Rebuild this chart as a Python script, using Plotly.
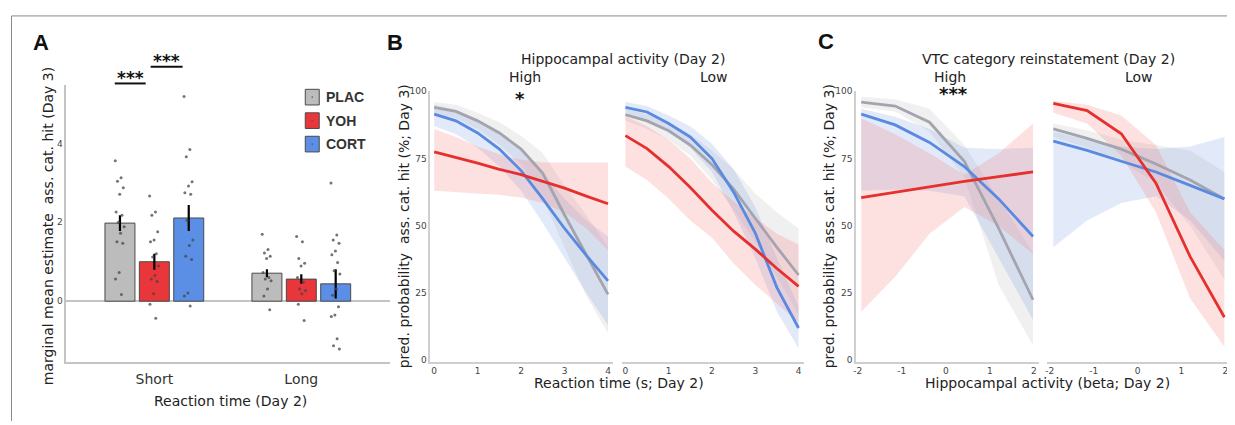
import plotly.graph_objects as go

# page body has an 8px margin: size/offset the figure so the screenshot matches
OFF = 8
W, H = 1235 - OFF, 425 - OFF

# ---------------- Panel A data ----------------
groups = ["Short", "Long"]
conds = ["PLAC", "YOH", "CORT"]
bar_means = {"PLAC": [1.98, 0.71], "YOH": [1.00, 0.56], "CORT": [2.11, 0.44]}
bar_se = {"PLAC": [0.20, 0.10], "YOH": [0.20, 0.12], "CORT": [0.33, 0.37]}
pts_plac_short = [3.56, 3.13, 3.04, 2.88, 2.71, 2.26, 2.18, 2.0, 1.89, 1.72, 1.51, 1.47, 0.73, 0.56, 0.17]
pts_yoh_short = [2.67, 2.26, 2.18, 1.76, 1.55, 1.51, 1.2, 1.12, 0.89, 0.65, 0.56, 0.5, 0.19, -0.08, -0.43]
pts_cort_short = [5.19, 3.85, 3.66, 3.03, 2.92, 2.75, 2.71, 2.05, 1.55, 1.41, 1.14, 1.06, 0.21, 0.13, -0.12]
pts_plac_long = [1.7, 1.31, 1.22, 1.14, 1.08, 0.73, 0.6, 0.56, 0.52, 0.31, 0.13, -0.22]
pts_yoh_long = [1.64, 1.51, 1.08, 0.96, 0.89, 0.6, 0.48, 0.31, 0.27, 0.19, -0.08, -0.49]
pts_cort_long = [3.0, 1.68, 1.55, 1.47, 1.27, 1.18, 0.98, 0.77, 0.69, 0.31, 0.15, -0.14, -0.35, -0.39, -0.95, -1.13, -1.21]
points = {
    "PLAC": [pts_plac_short, pts_plac_long],
    "YOH": [pts_yoh_short, pts_yoh_long],
    "CORT": [pts_cort_short, pts_cort_long],
}

# ---------------- Panel B data (Reaction time) ----------------
rt = [0, 0.5, 1, 1.5, 2, 2.5, 3, 3.5, 4]
B_high = {
    "PLAC": ([94, 92.5, 89, 84.5, 78.5, 69.5, 54, 39.5, 24.5],
             [92, 90, 86, 80, 73, 60, 42, 24, 10],
             [96, 95, 92, 88.5, 83.5, 77, 65, 54, 42]),
    "CORT": ([91.5, 89, 84.5, 78.5, 70.5, 60, 49, 39, 29.5],
             [87, 84, 79, 72, 63, 51, 38, 25, 13],
             [95, 93, 89.5, 85, 78.5, 69.5, 60, 52, 46]),
    "YOH": ([77.5, 75.5, 73.3, 71, 69, 66.5, 64, 61, 58.2],
            [63, 62.5, 62, 61.5, 60.5, 58.5, 55, 49, 41],
            [86, 83, 79.5, 76.5, 74.5, 73.5, 73.5, 73.5, 73.5]),
}
B_low = {
    "PLAC": ([91.3, 89, 85.3, 80, 72.7, 63.6, 52.8, 42, 31.7],
             [89, 86, 82, 76, 67, 56, 44, 31, 17],
             [93.5, 91.5, 88.5, 84, 78, 71, 62, 55, 49]),
    "CORT": ([94, 92.3, 88, 83, 75, 62.5, 47.3, 27, 12],
             [92, 89.5, 85, 79, 70, 55, 38, 18, 4.5],
             [96, 94.5, 91, 87, 80.5, 71, 57, 38, 20]),
    "YOH": ([83.5, 78.7, 72, 64.2, 55.8, 48, 41.3, 34.1, 27.5],
            [72, 67, 60, 52, 45.5, 36, 28, 21, 14],
            [90.7, 87, 82, 75, 66, 59, 53, 47, 43]),
}

# ---------------- Panel C data (Hippocampal activity) ----------------
hc = [-1.92, -1.15, -0.37, 0.42, 1.2, 1.98]
hc_ticks = [-2, -1, 0, 1, 2]
hc_ticktext = ["-2", "-1", "0", "1", "2"]
C_high = {
    "PLAC": ([96, 94.5, 88.5, 74, 49, 22.5],
             [94, 92.5, 85, 68, 28, 5.5],
             [98, 97, 93.5, 80, 60, 40]),
    "CORT": ([91.5, 87.5, 81, 72, 60, 46],
             [63, 63.5, 63, 61, 38, 15],
             [93.5, 90.5, 86, 79, 78.5, 79]),
    "YOH": ([60.5, 62.5, 64.5, 66.5, 68.3, 70],
            [18, 31, 47, 57, 50, 39.5],
            [90, 84, 77, 69, 77, 88]),
}
C_low = {
    "PLAC": ([86, 82.5, 78.5, 73, 67, 60],
             [83, 79, 74, 66, 50, 30],
             [88, 85.5, 82, 80, 78, 70]),
    "CORT": ([81.5, 78, 74, 70, 65, 60],
             [42, 52, 58.5, 61, 52, 37],
             [85, 82, 79.5, 78.5, 79.5, 83]),
    "YOH": ([95.5, 92.8, 84.2, 65.8, 38.5, 16],
            [92, 88, 76, 55, 23, 5],
            [96.5, 95, 91, 80, 55, 41]),
}

# ---------------- Styles ----------------
bar_col = {"PLAC": "#bcbcbc", "YOH": "#e8363a", "CORT": "#5b8fe6"}
line_col = {"PLAC": "#a4a4ae", "YOH": "#e5302e", "CORT": "#5a8ae0"}
band_col = {"PLAC": "rgba(200,200,205,0.28)", "YOH": "rgba(245,120,120,0.22)", "CORT": "rgba(110,150,225,0.20)"}
FONT = "DejaVu Sans"
BOLD = "Liberation Sans"


def px(x):
    return (x - OFF) / W


def py(y):
    return 1 - (y - OFF) / H


fig = go.Figure()

# ---- Panel A bars ----
slot = 0.234
bw = 0.204
for k, c in enumerate(conds):
    off = (k - 1) * slot
    xs = [g + off for g in range(len(groups))]
    fig.add_trace(go.Bar(
        x=xs, y=bar_means[c], width=bw, name=c,
        marker=dict(color=bar_col[c], line=dict(color="#4a4a4a", width=1)),
        error_y=dict(type="data", array=bar_se[c], color="black", thickness=2.2, width=0),
        xaxis="x", yaxis="y", showlegend=False,
    ))
for k, c in enumerate(conds):
    off = (k - 1) * slot
    for g in range(len(groups)):
        vals = points[c][g]
        xs = [g + off + 0.032 * (((i * 0.618) % 1) * 2 - 1) for i in range(len(vals))]
        fig.add_trace(go.Scatter(
            x=xs, y=vals, mode="markers",
            marker=dict(size=3, color="rgba(70,70,70,0.75)"),
            xaxis="x", yaxis="y", showlegend=False, hoverinfo="skip",
        ))


# ---- Panels B / C ----
def add_panel(data, xs, ax):
    order = ["PLAC", "CORT", "YOH"]
    for c in order:
        m, lo, hi = data[c]
        fig.add_trace(go.Scatter(
            x=xs + xs[::-1], y=hi + lo[::-1], fill="toself",
            fillcolor=band_col[c], line=dict(width=0), mode="lines",
            xaxis="x" + ax, yaxis="y" + ax, showlegend=False, hoverinfo="skip",
        ))
    for c in order:
        m, lo, hi = data[c]
        fig.add_trace(go.Scatter(
            x=xs, y=m, mode="lines", line=dict(color=line_col[c], width=2.8),
            xaxis="x" + ax, yaxis="y" + ax, showlegend=False,
        ))


add_panel(B_high, rt, "2")
add_panel(B_low, rt, "3")
add_panel(C_high, hc, "4")
add_panel(C_low, hc, "5")

axis_line = "#cfcfcf"
tickf = dict(family=FONT, size=9, color="#444")
ydom = [py(364.3), py(88)]

layout = dict(
    width=W, height=H, margin=dict(l=0, r=0, t=0, b=0),
    paper_bgcolor="white", plot_bgcolor="white",
    barmode="overlay", showlegend=False,
    xaxis=dict(domain=[px(63.3), px(388.3)], range=[-0.6, 1.606], tickvals=[0, 1], ticktext=groups,
               showline=True, linecolor="#c4c4c4", linewidth=1.5, showgrid=False, zeroline=False,
               ticks="outside", ticklen=3, tickcolor="rgba(0,0,0,0)",
               tickfont=dict(family=FONT, size=14, color="#333")),
    yaxis=dict(domain=[py(365), py(81.7)], range=[-1.55, 5.48], tickvals=[0, 2, 4],
               showline=True, linecolor="#c4c4c4", linewidth=1.5, showgrid=False,
               zeroline=True, zerolinecolor="#c4c4c4", zerolinewidth=1.5,
               ticks="", tickfont=tickf),
)

xdoms = {"2": [px(428.3), px(611.7)], "3": [px(620), px(802.7)],
         "4": [px(855), px(1038.3)], "5": [px(1046.7), px(1228.3)]}
xranges = {"2": [-0.09, 4.12], "3": [-0.09, 4.12], "4": [-2.04, 2.11], "5": [-2.06, 2.07]}
for ax in ["2", "3", "4", "5"]:
    if ax in ("2", "3"):
        tv, tt = [0, 1, 2, 3, 4], ["0", "1", "2", "3", "4"]
    else:
        tv, tt = hc_ticks, hc_ticktext
    layout["xaxis" + ax] = dict(domain=xdoms[ax], range=xranges[ax], tickvals=tv, ticktext=tt,
                                showline=True, linecolor=axis_line, linewidth=1.5, showgrid=False,
                                zeroline=False, ticks="", tickfont=tickf, anchor="y" + ax)
    left = ax in ("2", "4")
    layout["yaxis" + ax] = dict(domain=ydom, range=[-0.5, 100], tickvals=[0, 25, 50, 75, 100],
                                showline=left, linecolor=axis_line, linewidth=1.5, showgrid=False,
                                zeroline=False, ticks="", showticklabels=left, tickfont=tickf,
                                anchor="x" + ax)

fig.update_layout(**layout)

ann = []


def text(x, y, s, size=14, family=FONT, color="#222", angle=0, bold=False, xanchor="center"):
    if bold:
        s = "<b>" + s + "</b>"
    ann.append(dict(x=px(x), y=py(y), xref="paper", yref="paper", text=s, showarrow=False,
                    xanchor=xanchor, yanchor="middle", textangle=angle,
                    font=dict(family=family, size=size, color=color)))


text(38, 38, "A", size=22, family=BOLD, color="#111", bold=True)
text(393, 38, "B", size=22, family=BOLD, color="#111", bold=True)
text(825, 37, "C", size=22, family=BOLD, color="#111", bold=True)

text(45, 226, "marginal mean estimate  ass. cat. hit (Day 3)", size=14, angle=-90)
text(228, 405, "Reaction time (Day 2)", size=14)

text(621, 55, "Hippocampal activity (Day 2)", size=14)
text(523, 73, "High", size=14)
text(713, 73, "Low", size=14)
text(518, 95, "*", size=18, color="#111", bold=True)
text(402, 226, "pred. probability  ass. cat. hit (%; Day 3)", size=14, angle=-90)
text(617, 386, "Reaction time (s; Day 2)", size=14)

text(1048, 55, "VTC category reinstatement (Day 2)", size=14)
text(949, 73, "High", size=14)
text(1139, 73, "Low", size=14)
text(953, 90, "***", size=18, color="#111", bold=True)
text(828, 226, "pred. probability  ass. cat. hit (%; Day 3)", size=14, angle=-90)
text(1047, 386, "Hippocampal activity (beta; Day 2)", size=14)

text(127.5, 74, "***", size=17, color="#111", bold=True)
text(164, 57, "***", size=17, color="#111", bold=True)

shapes = [
    dict(type="line", xref="paper", yref="paper", x0=px(112), x1=px(143), y0=py(80), y1=py(80),
         line=dict(color="#111", width=2)),
    dict(type="line", xref="paper", yref="paper", x0=px(148), x1=px(180), y0=py(63), y1=py(63),
         line=dict(color="#111", width=2)),
    dict(type="line", xref="paper", yref="paper", x0=px(8.5), x1=1, y0=py(11), y1=py(11),
         line=dict(color="#8a8a8a", width=1)),
    dict(type="line", xref="paper", yref="paper", x0=px(8.5), x1=px(8.5), y0=py(11), y1=0,
         line=dict(color="#8a8a8a", width=1)),
]

# ---- manual legend for panel A ----
for k, c in enumerate(conds):
    yc = 94 + 24 * k
    shapes.append(dict(type="rect", xref="paper", yref="paper",
                       x0=px(303), x1=px(317), y0=py(yc + 8), y1=py(yc - 8),
                       fillcolor=bar_col[c], line=dict(color="#4a4a4a", width=1)))
    shapes.append(dict(type="rect", xref="paper", yref="paper",
                       x0=px(309.3), x1=px(310.7), y0=py(yc + 0.7), y1=py(yc - 0.7),
                       fillcolor="#555", line=dict(width=0)))
    text(322, yc, c, size=14, family=BOLD, color="#333", bold=True, xanchor="left")

fig.update_layout(annotations=ann, shapes=shapes)
fig.write_html("out.html")
